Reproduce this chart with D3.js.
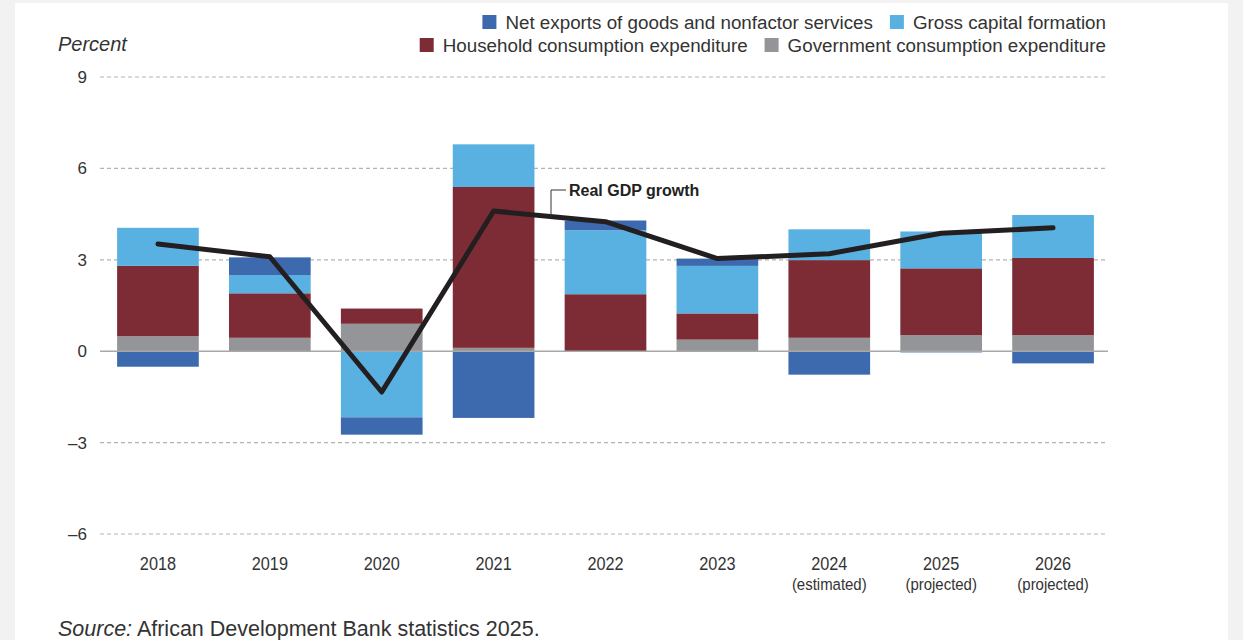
<html>
<head>
<script src="https://cdnjs.cloudflare.com/ajax/libs/d3/7.8.5/d3.min.js"></script>
<style>
  body { margin: 0; background: #f2f2f2; }
  svg { display: block; font-family: "Liberation Sans", Arial, sans-serif; }
</style>
</head>
<body>
<svg width="1243" height="640"></svg>
<script>
// values (percentage points)
const years = ["2018", "2019", "2020", "2021", "2022", "2023", "2024", "2025", "2026"];
const yearNotes = ["", "", "", "", "", "", "(estimated)", "(projected)", "(projected)"];
const netExports = [-0.51, 0.58, -0.57, -2.19, 0.32, 0.24, -0.77, -0.04, -0.40];
const grossCapital = [1.25, 0.60, -2.17, 1.40, 2.10, 1.56, 1.01, 1.21, 1.41];
const household = [2.31, 1.46, 0.50, 5.28, 1.87, 0.86, 2.55, 2.19, 2.53];
const government = [0.49, 0.44, 0.90, 0.11, 0.00, 0.38, 0.44, 0.53, 0.53];
const gdpGrowth = [3.52, 3.10, -1.34, 4.60, 4.25, 3.04, 3.20, 3.87, 4.05];
const yTicks = [-6, -3, 0, 3, 6, 9];

const keys = ["gov", "hh", "gcf", "net"];
const colors = { net: "#3d6aaf", gcf: "#59b1e1", hh: "#7d2c35", gov: "#949598" };
const labels = {
  net: "Net exports of goods and nonfactor services",
  gcf: "Gross capital formation",
  hh: "Household consumption expenditure",
  gov: "Government consumption expenditure"
};

const rows = years.map((y, i) => ({
  year: y, net: netExports[i], gcf: grossCapital[i], hh: household[i], gov: government[i]
}));

const svg = d3.select("svg");
svg.append("rect").attr("x", 15).attr("y", 3).attr("width", 1213).attr("height", 640).attr("fill", "#fff");

const x = d3.scaleBand().domain(years).range([102, 1109]).paddingInner(0.27).paddingOuter(0.135);
const y = d3.scaleLinear().domain([-6, 9]).range([534, 77]);

// gridlines
svg.append("g").selectAll("line").data(yTicks.filter(d => d !== 0)).join("line")
  .attr("x1", 100).attr("x2", 1108)
  .attr("y1", d => y(d)).attr("y2", d => y(d))
  .attr("stroke", "#b3b3b3").attr("stroke-width", 1.2).attr("stroke-dasharray", "4,3");

// y tick labels
svg.append("g").selectAll("text").data(yTicks).join("text")
  .attr("x", 87).attr("y", d => y(d) + 6)
  .attr("text-anchor", "end").attr("font-size", 17).attr("fill", "#333")
  .text(d => d < 0 ? "\u2013" + Math.abs(d) : d);

svg.append("text").attr("x", 58).attr("y", 51).attr("font-size", 20).attr("font-style", "italic")
  .attr("fill", "#333").text("Percent");

// stacked bars
const series = d3.stack().keys(keys).offset(d3.stackOffsetDiverging)(rows);
svg.append("g").selectAll("g").data(series).join("g")
  .attr("fill", s => colors[s.key])
  .selectAll("rect").data(s => s).join("rect")
  .attr("x", d => x(d.data.year))
  .attr("width", x.bandwidth())
  .attr("y", d => y(Math.max(d[0], d[1])))
  .attr("height", d => Math.abs(y(d[0]) - y(d[1])));

// zero line
svg.append("line").attr("x1", 100).attr("x2", 1108).attr("y1", y(0)).attr("y2", y(0))
  .attr("stroke", "#a8a8a8").attr("stroke-width", 1.5);

// GDP line
const line = d3.line().x((d, i) => x(years[i]) + x.bandwidth() / 2).y(d => y(d));
svg.append("path").datum(gdpGrowth).attr("d", line)
  .attr("fill", "none").attr("stroke", "#231f20").attr("stroke-width", 5)
  .attr("stroke-linecap", "round").attr("stroke-linejoin", "round");

// annotation
const ax = 551;
const x0 = x(years[3]) + x.bandwidth() / 2, x1 = x(years[4]) + x.bandwidth() / 2;
const ay = y(gdpGrowth[3] + (gdpGrowth[4] - gdpGrowth[3]) * (ax - x0) / (x1 - x0));
svg.append("path").attr("d", `M${ax},${ay} V190 H566`)
  .attr("fill", "none").attr("stroke", "#333").attr("stroke-width", 1);
svg.append("text").attr("x", 569).attr("y", 196).attr("font-size", 16).attr("font-weight", "bold")
  .attr("fill", "#222").text("Real GDP growth");

// x labels (condensed look)
const xl = svg.append("g").selectAll("g").data(years).join("g")
  .attr("transform", d => `translate(${x(d) + x.bandwidth() / 2},0) scale(0.88,1)`);
xl.append("text").attr("y", 570).attr("text-anchor", "middle").attr("font-size", 18.5)
  .attr("fill", "#333").text(d => d);
xl.append("text").attr("y", 590).attr("text-anchor", "middle").attr("font-size", 17)
  .attr("fill", "#333").text((d, i) => yearNotes[i]);

// legend (right aligned rows)
const legendRows = [["net", "gcf"], ["hh", "gov"]];
legendRows.forEach((row, r) => {
  const g = svg.append("g");
  let cx = 1106;
  const cy = 22 + r * 23;
  row.slice().reverse().forEach(k => {
    const t = g.append("text").attr("x", cx).attr("y", cy + 6.5).attr("text-anchor", "end")
      .attr("font-size", 18.8).attr("fill", "#333").text(labels[k]);
    const w = t.node().getComputedTextLength();
    g.append("rect").attr("x", cx - w - 23).attr("y", cy - 7).attr("width", 14).attr("height", 14)
      .attr("fill", colors[k]);
    cx = cx - w - 40;
  });
});

// source
const src = svg.append("text").attr("x", 58).attr("y", 636).attr("font-size", 21.5).attr("fill", "#333");
src.append("tspan").attr("font-style", "italic").text("Source:");
src.append("tspan").text(" African Development Bank statistics 2025.");
</script>
</body>
</html>
